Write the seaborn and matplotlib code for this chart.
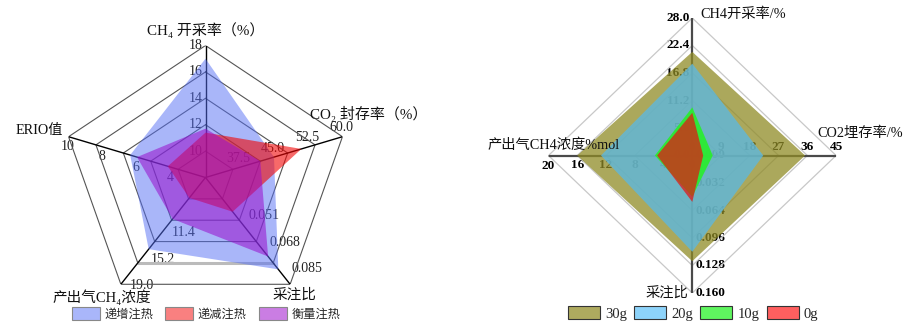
import numpy as np
import matplotlib
matplotlib.use("Agg")
import matplotlib.pyplot as plt
from matplotlib.patches import Patch
import seaborn as sns

sns.set_theme(style="white")
FAM = ["Liberation Serif", "DejaVu Serif", "Noto Sans CJK SC"]
plt.rcParams["font.family"] = FAM

# ---------------- left chart data ----------------
left_axes = ["CH₄ 开采率（%）", "CO₂ 封存率（%）", "采注比", "产出气CH₄浓度", "ERIO值"]
left_min = [8, 30, 0.017, 3.8, 2]
left_max = [18, 60, 0.085, 19.0, 10]
left_series = ["递增注热", "递减注热", "衡量注热"]
left_inc = [17.0, 45.0, 0.0755, 14.0, 6.4]
left_dec = [11.4, 51.0, 0.0388, 6.7, 4.2]
left_bal = [11.7, 42.0, 0.0673, 9.7, 6.0]
left_ticks_ch4 = [10, 12, 14, 16, 18]
left_ticks_co2 = [37.5, 45.0, 52.5, 60.0]
left_ticks_ratio = [0.051, 0.068, 0.085]
left_ticks_conc = [11.4, 15.2, 19.0]
left_ticks_erio = [4, 6, 8, 10]

# ---------------- right chart data ----------------
right_axes = ["CH4开采率/%", "CO2埋存率/%", "采注比", "产出气CH4浓度%mol"]
right_max = [28.0, 45, 0.160, 20]
right_series = ["30g", "20g", "10g", "0g"]
r30 = [21.1, 35.3, 0.123, 16.0]
r20 = [18.7, 22.2, 0.112, 12.7]
r10 = [9.8, 6.4, 0.048, 5.2]
r0 = [8.7, 3.4, 0.054, 4.9]
right_ticks_ch4 = [0.0, 5.6, 11.2, 16.8, 22.4, 28.0]
right_ticks_co2 = [0, 9, 18, 27, 36, 45]
right_ticks_ratio = [0.000, 0.032, 0.064, 0.096, 0.128, 0.160]
right_ticks_conc = [0, 4, 8, 12, 16, 20]

W, H = 907, 324
fig = plt.figure(figsize=(W / 100, H / 100), dpi=100)
P = 0.72  # px -> pt


def make_polar(cx, cy, rx, ry):
    ax = fig.add_axes([(cx - rx) / W, (H - cy - ry) / H, 2 * rx / W, 2 * ry / H],
                      projection="polar")
    ax.set_theta_zero_location("N")
    ax.set_theta_direction(-1)
    ax.set_aspect("auto")
    ax.set_ylim(0, 1)
    ax.set_axis_off()
    return ax


def closed(th, r):
    return np.append(th, th[0]), np.append(r, r[0])


# ================= LEFT =================
axL = make_polar(205.5, 177.5, 144, 132)
nL = len(left_axes)
thL = np.arange(nL) * 2 * np.pi / nL
for lev in [0.2, 0.4, 0.6, 0.8, 1.0]:
    t, r = closed(thL, np.full(nL, lev))
    axL.plot(t, r, color="#555555", lw=0.8, zorder=1)
# gray artefact on bottom edge of 0.8 ring
axL.plot([thL[2], thL[3]], [0.8, 0.8], color="#bbbbbb", lw=2.2, zorder=1.1)
for th in thL:
    axL.plot([th, th], [0, 1], color="black", lw=1.0, zorder=1.2)

mn, mx = np.array(left_min), np.array(left_max)
for vals, col, a in [(left_inc, (0.33, 0.43, 0.96), 0.5),
                     (left_dec, (0.95, 0.02, 0.02), 0.6),
                     (left_bal, (0.60, 0.05, 0.80), 0.55)]:
    frac = (np.array(vals) - mn) / (mx - mn)
    t, r = closed(thL, frac)
    axL.fill(t, r, color=col, alpha=a, lw=0, zorder=3)

tick_specs_L = [
    (0, left_ticks_ch4, "{:g}", "right", "center", (-3, 0)),
    (1, left_ticks_co2, "{:.1f}", "center", "center", (-1, 9)),
    (2, left_ticks_ratio, "{:.3f}", "left", "center", (1, 15.5)),
    (3, left_ticks_conc, "{:.1f}", "left", "center", (9, -1.5)),
    (4, left_ticks_erio, "{:g}", "center", "center", (-1, -10)),
]
for i, ticks, fmt, ha, va, (dx, dy) in tick_specs_L:
    for v in ticks:
        fr = (v - left_min[i]) / (left_max[i] - left_min[i])
        axL.annotate(fmt.format(v), (thL[i], fr), xytext=(dx * P, dy * P),
                     textcoords="offset points", ha=ha, va=va, fontsize=10,
                     color="#222222", zorder=0.5, annotation_clip=False)

name_specs_L = [(0, "center", (0, 15), 10.8), (1, "left", (-32, 23), 10.8),
                (2, "center", (4, -11), 10.5), (3, "center", (-19, -13), 10.5),
                (4, "right", (-6, 6), 10.2)]
for i, ha, (dx, dy), fs in name_specs_L:
    axL.annotate(left_axes[i], (thL[i], 1.0), xytext=(dx * P, dy * P),
                 textcoords="offset points", ha=ha, va="center", fontsize=fs,
                 color="#111111", annotation_clip=False)

hL = [Patch(facecolor=c, edgecolor="#888888", lw=0.8) for c in ["#a9b6fa", "#f98080", "#ca7de3"]]
legL = fig.legend(hL, left_series, loc="center", bbox_to_anchor=(206 / W, (H - 314) / H),
                  ncol=3, frameon=False, fontsize=8.8, handlelength=2.3, handleheight=1.15,
                  handletextpad=0.35, columnspacing=1.0, borderpad=0)

# ================= RIGHT =================
axR = make_polar(692.3, 155.5, 143.8, 137.5)
nR = len(right_axes)
thR = np.arange(nR) * 2 * np.pi / nR
for lev in [0.2, 0.4, 0.6, 0.8, 1.0]:
    t, r = closed(thR, np.full(nR, lev))
    axR.plot(t, r, color="#c8c8c8", lw=0.9, zorder=1)
for th in thR:
    axR.plot([th, th], [0, 1], color="#4a4a4a", lw=1.6, zorder=1.2)

mxR = np.array(right_max)
for vals, col, a in [(r30, (0.56, 0.545, 0.15), 0.75),
                     (r20, (0.37, 0.72, 0.87), 0.8),
                     (r10, (0.15, 0.94, 0.15), 0.88),
                     (r0, (0.90, 0.07, 0.07), 0.72)]:
    frac = np.array(vals) / mxR
    t, r = closed(thR, frac)
    axR.fill(t, r, color=col, alpha=a, lw=0, zorder=3)

tick_specs_R = [
    (0, right_ticks_ch4, "{:.1f}", "right", "center", (-2.5, 0)),
    (1, right_ticks_co2, "{:g}", "center", "center", (0, 9)),
    (2, right_ticks_ratio, "{:.3f}", "left", "center", (3, 0)),
    (3, right_ticks_conc, "{:g}", "center", "center", (0, -10)),
]
for i, ticks, fmt, ha, va, (dx, dy) in tick_specs_R:
    for v in ticks:
        fr = v / right_max[i]
        axR.annotate(fmt.format(v), (thR[i], fr), xytext=(dx * P, dy * P),
                     textcoords="offset points", ha=ha, va=va, fontsize=9.5,
                     fontweight="bold", color="black", zorder=0.5, annotation_clip=False)

name_specs_R = [(0, "left", (8, 4)), (1, "left", (-19, 22)), (2, "right", (-4, 0)),
                (3, "center", (5, 10))]
for i, ha, (dx, dy) in name_specs_R:
    axR.annotate(right_axes[i], (thR[i], 1.0), xytext=(dx * P, dy * P),
                 textcoords="offset points", ha=ha, va="center", fontsize=10.3,
                 color="#111111", annotation_clip=False)

hR = [Patch(facecolor=c, edgecolor="#333333", lw=0.8)
      for c in ["#aeaa5f", "#8dd3fa", "#5ff55f", "#ff5f5f"]]
legR = fig.legend(hR, right_series, loc="center", bbox_to_anchor=(693 / W, (H - 313.5) / H),
                  ncol=4, frameon=False, fontsize=10.5, handlelength=2.2, handleheight=0.9,
                  handletextpad=0.35, columnspacing=0.5, borderpad=0)

fig.savefig("out.png", dpi=100, facecolor="white")
